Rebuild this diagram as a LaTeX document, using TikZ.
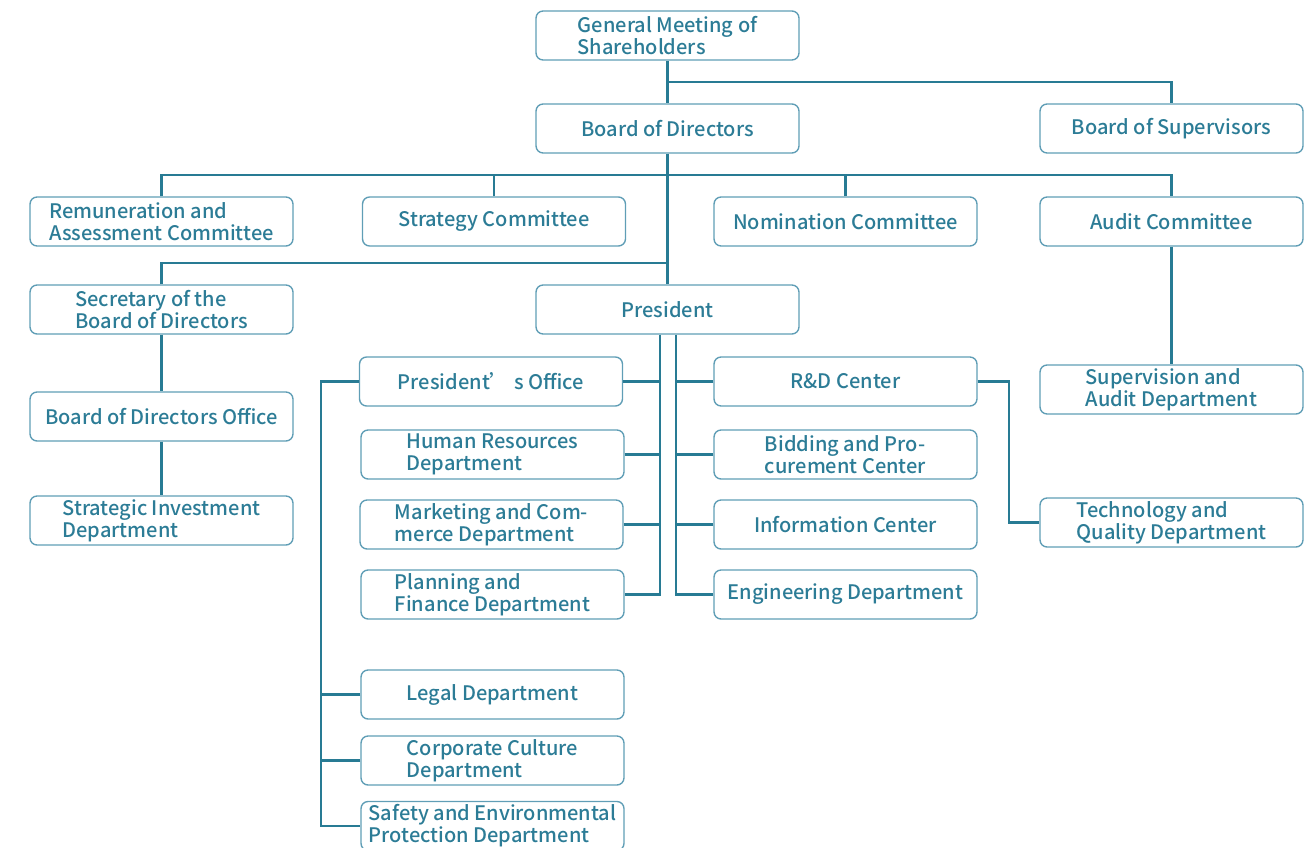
\documentclass[tikz,border=0pt]{standalone}
\usepackage{fontspec}
\setmainfont{Noto Sans CJK SC}[UprightFont=* Medium]
\definecolor{orgline}{RGB}{40,123,148}
\definecolor{orgedge}{RGB}{96,158,182}
\definecolor{orgtext}{RGB}{44,124,150}

\begin{document}
\begin{tikzpicture}[x=0.02cm,y=-0.02cm]
\tikzset{every node/.style={font=\fontsize{11.4}{12.5}\selectfont},
  unit/.style={draw=orgedge,line width=0.8pt,rounded corners=4pt,minimum width=5.26cm,
    minimum height=0.98cm,align=left,text=orgtext,inner sep=1pt},
  link/.style={draw=orgline,line width=1.2pt}}
\useasboundingbox (0,0) rectangle (1316,848);
\clip (0,0) rectangle (1316,848);
% top levels
\node[unit] (gms) at (667.5,35.5) {General Meeting of\\Shareholders};
\node[unit] (bod) at (667.5,128.5) {Board of Directors};
\node[unit] (bos) at (1171.5,128.5) {Board of Supervisors};
% committees
\node[unit] (rem) at (161.5,221.5) {Remuneration and\\Assessment Committee};
\node[unit] (stc) at (494,221.5) {Strategy Committee};
\node[unit] (nom) at (845.5,221.5) {Nomination Committee};
\node[unit] (aud) at (1171.5,221.5) {Audit Committee};
% secretary side
\node[unit] (sec) at (161.5,309.5) {Secretary of the\\Board of Directors};
\node[unit] (bdo) at (161.5,416.5) {Board of Directors Office};
\node[unit] (sid) at (161.5,520.5) {Strategic Investment\\Department};
\node[unit] (pres) at (667.5,309.5) {President};
% president left column
\node[unit] (pof) at (491,381.5) {President’ s Office};
\node[unit] (hrd) at (492.5,454.5) {Human Resources\\Department};
\node[unit] (mcd) at (491.5,524.5) {Marketing and Com-\\merce Department};
\node[unit] (pfd) at (492.5,594.5) {Planning and\\Finance Department};
\node[unit] (leg) at (492.5,694.5) {Legal Department};
\node[unit] (ccd) at (492.5,760.5) {Corporate Culture\\Department};
\node[unit] (sep) at (492.5,826) {Safety and Environmental\\Protection Department};
% president right column
\node[unit] (rdc) at (845.5,381.5) {R\&D Center};
\node[unit] (bpc) at (845.5,454.5) {Bidding and Pro-\\curement Center};
\node[unit] (inf) at (845.5,524.5) {Information Center};
\node[unit] (eng) at (845.5,594.5) {Engineering Department};
% far right
\node[unit] (sad) at (1171.5,389.5) {Supervision and\\Audit Department};
\node[unit] (tqd) at (1171.5,522.5) {Technology and\\Quality Department};

\coordinate (shbus) at (0,82);
\coordinate (cbus) at (0,175);
\coordinate (sbus) at (0,263);
\coordinate (lbus) at (321,0);
\coordinate (pl) at (660,0);
\coordinate (pr) at (676,0);

% connectors
\draw[link] (gms.south) -- (bod.north);
\draw[link] (gms.south |- shbus) -| (bos.north);
\draw[link] (bod.south) -- (pres.north);
\draw[link] (rem.north) |- (aud.north |- cbus) -- (aud.north);
\draw[link] (stc.north) -- (stc.north |- cbus);
\draw[link] (nom.north) -- (nom.north |- cbus);
\draw[link] (sec.north) |- (pres.north |- sbus);
\draw[link] (sec.south) -- (bdo.north);
\draw[link] (bdo.south) -- (sid.north);
\draw[link] (aud.south) -- (sad.north);
\draw[link] (pres.south -| pl) |- (pfd.east);
\draw[link] (pof.east) -- (pof.east -| pl);
\draw[link] (hrd.east) -- (hrd.east -| pl);
\draw[link] (mcd.east) -- (mcd.east -| pl);
\draw[link] (pres.south -| pr) |- (eng.west);
\draw[link] (rdc.west) -- (rdc.west -| pr);
\draw[link] (bpc.west) -- (bpc.west -| pr);
\draw[link] (inf.west) -- (inf.west -| pr);
\draw[link] (rdc.east) -- ++(31,0) |- (tqd.west);
\draw[link] (pof.west) -| (lbus |- sep.west) -- (sep.west);
\draw[link] (leg.west) -- (leg.west -| lbus);
\draw[link] (ccd.west) -- (ccd.west -| lbus);
\end{tikzpicture}
\end{document}
